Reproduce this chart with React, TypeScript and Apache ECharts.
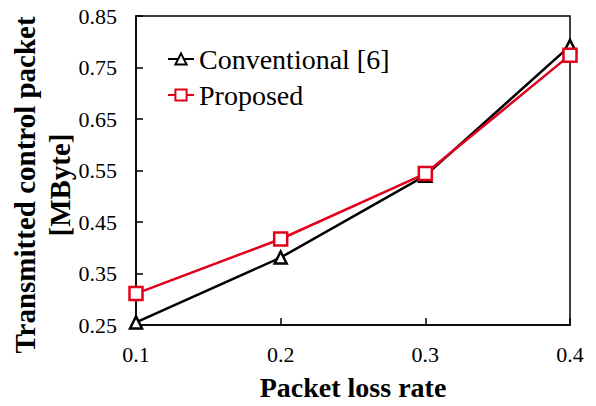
import React, { useEffect, useRef } from "react";
import * as echarts from "echarts";

const categories = ["0.1", "0.2", "0.3", "0.4"];
const conventional = [0.255, 0.381, 0.54, 0.792];
const proposed = [0.311, 0.417, 0.544, 0.774];
const yTitleLines = ["Transmitted control packet", "[MByte]"];
const xTitle = "Packet loss rate";
const seriesNames = ["Conventional [6]", "Proposed"];

const FONT = "Liberation Serif";

export default function App() {
  const ref = useRef<HTMLDivElement>(null);
  useEffect(() => {
    if (!ref.current) return;
    const chart = echarts.init(ref.current, undefined, { renderer: "svg" });
    chart.setOption({
      animation: false,
      backgroundColor: "#fff",
      textStyle: { fontFamily: FONT, color: "#000" },
      grid: {
        left: 136,
        right: 26,
        top: 16,
        bottom: 77,
        show: true,
        borderColor: "#000",
        borderWidth: 1.5,
        backgroundColor: "transparent",
      },
      legend: {
        orient: "vertical",
        left: 162,
        top: 40,
        itemWidth: 26,
        itemHeight: 14,
        itemGap: 8,
        textStyle: { fontFamily: FONT, fontSize: 28, color: "#000" },
        data: seriesNames,
      },
      xAxis: {
        type: "category",
        data: categories,
        boundaryGap: false,
        name: xTitle,
        nameLocation: "middle",
        nameGap: 48,
        nameTextStyle: { fontFamily: FONT, fontSize: 28, fontWeight: "bold", color: "#000" },
        axisLine: { lineStyle: { color: "#000", width: 1.5 } },
        axisTick: { inside: true, length: 7, lineStyle: { color: "#000", width: 1.5 } },
        axisLabel: { fontFamily: FONT, fontSize: 22, color: "#000", margin: 18 },
        splitLine: { show: false },
      },
      yAxis: {
        type: "value",
        min: 0.25,
        max: 0.85,
        interval: 0.1,
        axisLine: { show: true, lineStyle: { color: "#000", width: 1.5 } },
        axisTick: { show: true, inside: true, length: 7, lineStyle: { color: "#000", width: 1.5 } },
        axisLabel: {
          fontFamily: FONT,
          fontSize: 22,
          color: "#000",
          margin: 19,
          formatter: (v: number) => v.toFixed(2),
        },
        splitLine: { show: false },
      },
      graphic: [
        {
          type: "text",
          x: 25,
          y: 185,
          rotation: Math.PI / 2,
          style: {
            text: yTitleLines[0],
            fontFamily: FONT,
            fontSize: 29,
            fontWeight: "bold",
            fill: "#000",
            textAlign: "center",
            textVerticalAlign: "middle",
          },
        },
        {
          type: "text",
          x: 60,
          y: 185,
          rotation: Math.PI / 2,
          style: {
            text: yTitleLines[1],
            fontFamily: FONT,
            fontSize: 29,
            fontWeight: "bold",
            fill: "#000",
            textAlign: "center",
            textVerticalAlign: "middle",
          },
        },
      ],
      series: [
        {
          name: seriesNames[0],
          type: "line",
          data: conventional,
          symbol: "triangle",
          symbolSize: 12,
          showAllSymbol: true,
          lineStyle: { color: "#000", width: 2.5 },
          itemStyle: { color: "#fff", borderColor: "#000", borderWidth: 2.5 },
          z: 2,
        },
        {
          name: seriesNames[1],
          type: "line",
          data: proposed,
          symbol: "rect",
          symbolSize: 13,
          showAllSymbol: true,
          lineStyle: { color: "#e3001b", width: 2.5 },
          itemStyle: { color: "#fff", borderColor: "#e3001b", borderWidth: 2.5 },
          z: 3,
        },
      ],
    });
    return () => chart.dispose();
  }, []);
  return (
    <div
      ref={ref}
      style={{ position: "fixed", left: 0, top: 0, width: 596, height: 406 }}
    />
  );
}
